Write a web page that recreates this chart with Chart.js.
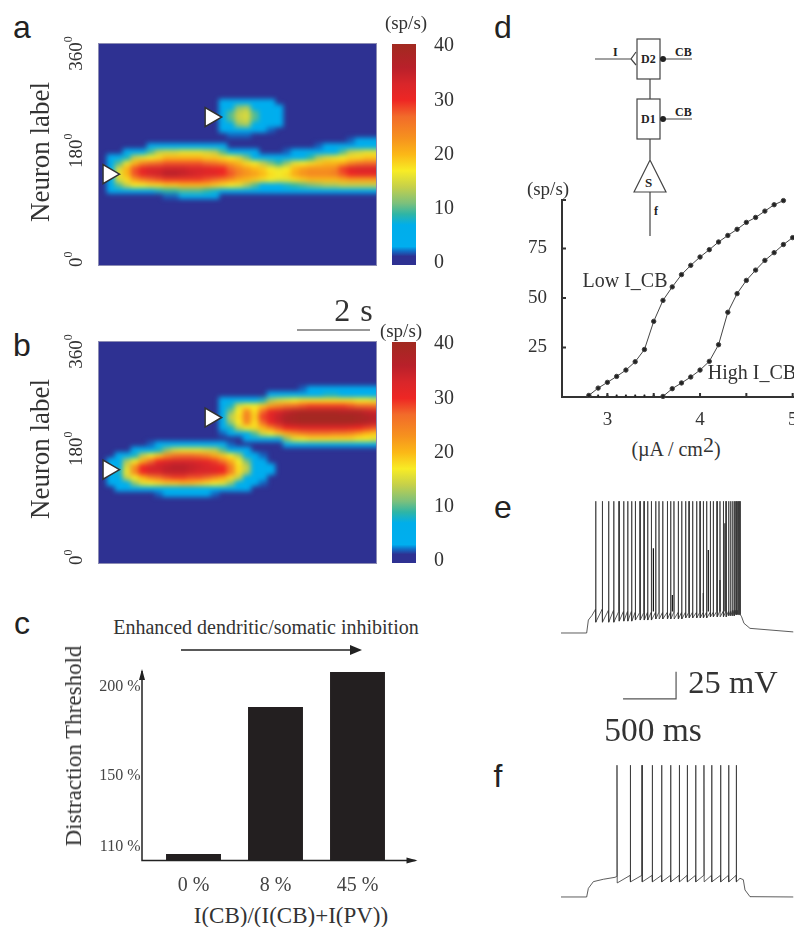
<!DOCTYPE html>
<html>
<head>
<meta charset="utf-8">
<script src="https://cdn.jsdelivr.net/npm/chart.js@4"></script>
<style>
html, body { margin: 0; padding: 0; background: #fff; overflow: hidden; width: 794px; height: 927px; }
canvas { position: absolute; }
.txt { position: absolute; white-space: nowrap; font-family: "Liberation Serif", serif; color: #333; transform-origin: center; }
.plot { position: absolute; overflow: hidden; background: #2e3192; outline: 1px solid #8c8cb4; }
.plot canvas { left: 0; top: 0; filter: blur(2.6px); }
</style>
</head>
<body>
<svg id="schema" width="794" height="240" style="position:absolute;left:0;top:0" font-family="Liberation Serif" font-weight="bold" fill="#222">
  <g fill="none" stroke="#444" stroke-width="1.2">
    <rect x="637" y="39" width="23" height="40"/>
    <rect x="637" y="99" width="23" height="40"/>
    <path d="M650 79V99M650 139V160M634 192L650 160L666 192ZM650 192V236"/>
    <path d="M595 59H631M636 52L631 59L636 65M663 59H692M663 119H692"/>
  </g>
  <circle cx="663" cy="59" r="3"/><circle cx="663" cy="119" r="3"/>
  <text x="613" y="56" font-size="12">I</text>
  <text x="675" y="56" font-size="12">CB</text>
  <text x="675" y="116" font-size="12">CB</text>
  <text x="641" y="63" font-size="12">D2</text>
  <text x="641" y="123" font-size="12">D1</text>
  <text x="645" y="187" font-size="13">S</text>
  <text x="654" y="215" font-size="12">f</text>
</svg>
<script>
// heat map grid: 36 time columns, each row covers 9 degrees from its start angle
const heatColumns = ['0.0','0.2','0.4','0.7','0.9','1.1','1.3','1.5','1.8','2.0','2.2','2.4','2.6','2.9','3.1','3.3','3.5','3.7','4.0','4.2','4.4','4.6','4.8','5.1','5.3','5.5','5.7','5.9','6.2','6.4','6.6','6.8','7.0','7.3','7.5','7.7'];

const aDegrees = [261,252,243,234,225,216,207,198,189,180,171,162,153,144,135,126,117,108];
const aRates = [
  [0,0,0,0,0,0,0,0,0,0,0,0,0,0,0,3,4,4,4,4,3,3,0,0,0,0,0,0,0,0,0,0,0,0,0,0],
  [0,0,0,0,0,0,0,0,0,0,0,0,0,0,0,4,6,12,13,6,4,4,3,0,0,0,0,0,0,0,0,0,0,0,0,0],
  [0,0,0,0,0,0,0,0,0,0,0,0,0,0,0,5,10,14,15,10,5,5,3,0,0,0,0,0,0,0,0,0,0,0,0,0],
  [0,0,0,0,0,0,0,0,0,0,0,0,0,0,0,5,10,14,15,10,5,5,3,0,0,0,0,0,0,0,0,0,0,0,0,0],
  [0,0,0,0,0,0,0,0,0,0,0,0,0,0,0,4,6,12,13,6,4,4,3,0,0,0,0,0,0,0,0,0,0,0,0,0],
  [0,0,0,0,0,0,0,0,0,0,0,0,0,0,0,3,4,4,4,4,3,2,0,0,0,0,0,0,0,0,0,0,0,0,0,0],
  [0,0,0,0,0,0,0,0,0,0,0,0,0,0,0,0,2,2,2,0,0,0,0,0,0,0,0,0,0,0,0,0,0,0,0,0],
  [0,0,0,0,0,0,0,0,0,0,0,0,0,0,0,0,0,0,0,0,0,0,0,0,0,0,0,0,0,0,0,2,3,4,4,4],
  [0,0,0,0,0,0,3,4,4,4,5,5,5,5,4,3,0,0,0,0,0,0,0,0,0,0,0,2,3,4,4,5,5,6,7,7],
  [0,0,0,3,5,6,10,14,15,15,16,16,16,15,14,10,7,5,4,3,0,0,0,2,3,3,4,4,5,7,10,14,15,16,16,16],
  [0,3,5,8,14,16,17,18,20,20,20,20,20,19,19,18,17,15,11,7,5,4,3,4,5,6,9,13,15,16,17,18,18,19,19,19],
  [0,4,10,16,20,24,26,27,28,28,28,28,28,27,26,24,22,20,18,17,14,11,9,12,16,17,18,19,20,20,21,24,26,27,27,27],
  [0,5,15,20,28,31,33,33,34,34,34,33,33,32,31,30,27,24,22,20,19,17,16,17,20,22,23,23,23,24,29,32,33,33,33,33],
  [0,6,16,20,28,31,33,34,36,36,35,34,33,32,32,30,28,25,23,22,20,18,17,18,21,23,24,24,24,25,28,30,31,31,31,31],
  [0,5,15,18,22,25,27,28,29,29,29,29,29,28,27,25,23,21,20,19,18,17,16,16,18,19,20,20,20,20,21,22,22,22,22,22],
  [0,4,10,14,17,17,18,18,19,19,20,20,20,20,19,18,17,16,13,10,7,6,6,8,9,10,11,12,13,13,14,14,14,14,14,14],
  [0,3,5,5,6,6,7,8,9,9,10,10,10,9,8,6,6,5,5,4,4,4,3,4,4,4,4,4,4,4,4,4,4,4,4,4],
  [0,0,0,0,0,0,0,0,2,2,3,3,3,3,3,0,0,0,0,0,0,0,0,0,0,0,0,0,0,0,0,0,0,0,0,0]
];

const bDegrees = [279,270,261,252,243,234,225,216,207,198,189,180,171,162,153,144,135,126,117,108];
const bRates = [
  [0,0,0,0,0,0,0,0,0,0,0,0,0,0,0,0,0,0,0,0,0,0,0,0,0,2,3,4,4,4,4,3,3,3,3,3],
  [0,0,0,0,0,0,0,0,0,0,0,0,0,0,0,0,0,0,0,0,0,3,4,5,5,5,6,7,8,8,7,6,5,5,5,5],
  [0,0,0,0,0,0,0,0,0,0,0,0,0,0,0,3,4,5,5,5,8,13,15,16,17,18,18,18,18,18,18,18,17,17,16,16],
  [0,0,0,0,0,0,0,0,0,0,0,0,0,0,0,4,8,15,17,17,19,22,24,26,27,28,29,29,29,29,29,28,27,27,26,26],
  [0,0,0,0,0,0,0,0,0,0,0,0,0,0,0,5,11,17,24,18,27,31,33,35,37,38,38,38,38,38,37,37,37,35,34,34],
  [0,0,0,0,0,0,0,0,0,0,0,0,0,0,0,6,14,18,25,19,29,32,35,38,39,40,40,40,40,40,40,40,39,38,36,36],
  [0,0,0,0,0,0,0,0,0,0,0,0,0,0,0,5,12,17,24,18,27,31,34,37,38,39,39,39,39,39,39,39,38,37,35,35],
  [0,0,0,0,0,0,0,0,0,0,0,0,0,0,0,4,8,14,17,18,20,24,28,30,31,32,32,32,32,32,32,31,30,29,28,28],
  [0,0,0,0,0,0,0,0,0,0,0,0,0,0,0,2,4,5,7,10,15,17,19,21,23,25,26,26,26,25,25,24,22,20,19,19],
  [0,0,0,0,0,0,0,0,0,0,0,0,0,0,0,0,0,0,3,4,5,5,7,12,16,17,18,18,18,18,18,18,17,17,16,16],
  [0,0,0,0,0,0,2,3,4,4,4,4,4,4,3,3,2,0,0,0,0,0,0,3,4,5,5,6,6,6,6,5,5,5,5,5],
  [0,0,0,0,3,4,5,8,12,15,16,16,16,15,14,10,6,4,3,0,0,0,0,0,0,0,0,0,0,0,0,0,0,0,0,0],
  [0,0,3,5,8,14,17,19,23,26,27,27,26,24,21,19,17,13,5,4,2,0,0,0,0,0,0,0,0,0,0,0,0,0,0,0],
  [0,3,5,13,17,21,27,30,32,33,33,33,32,31,29,26,21,17,11,5,4,0,0,0,0,0,0,0,0,0,0,0,0,0,0,0],
  [0,4,7,15,23,30,33,34,35,36,36,35,34,33,32,30,25,18,14,5,4,3,0,0,0,0,0,0,0,0,0,0,0,0,0,0],
  [0,4,8,16,24,30,33,33,35,35,35,34,33,33,32,30,25,18,13,5,4,3,0,0,0,0,0,0,0,0,0,0,0,0,0,0],
  [0,3,6,14,17,20,24,26,28,29,29,28,28,27,24,21,18,14,7,4,3,0,0,0,0,0,0,0,0,0,0,0,0,0,0,0],
  [0,3,4,6,12,16,17,18,19,19,20,20,19,18,17,16,12,7,5,4,2,0,0,0,0,0,0,0,0,0,0,0,0,0,0,0],
  [0,0,3,4,5,5,5,6,7,7,7,7,7,6,5,5,5,4,3,0,0,0,0,0,0,0,0,0,0,0,0,0,0,0,0,0],
  [0,0,0,0,0,0,0,2,3,3,3,3,3,3,2,0,0,0,0,0,0,0,0,0,0,0,0,0,0,0,0,0,0,0,0,0]
];

const angleTicks = [0, 180, 360];
const aCueTime = [0.27, 3.16];
const aCueAngle = [148, 241];
const bCueTime = [0.27, 3.16];
const bCueAngle = [152, 237];

const rateTicks = [0, 10, 20, 30, 40];
const rateStops = [0, 1.2, 2.2, 3, 7, 9, 11, 14, 17, 20, 23, 27, 30, 33, 36, 40.4];
const rateColors = ['#2e3192','#2e3192','#1070c8','#00aeef','#00aeea','#2fb5a5','#7cc07c','#c5d04a','#f8ec25','#fbb817','#f6921e','#f26b2a','#ee2724','#d9262a','#b9202a','#a12a20'];

// panel c
const ratioLabels = ['0 %', '8 %', '45 %'];
const thresholdValues = [106, 188.7, 208.4];
const thresholdTicks = [110, 150, 200];

// panel d
const lowCurrent = [2.8,2.9,3.0,3.1,3.2,3.3,3.4,3.5,3.6,3.7,3.8,3.9,4.0,4.1,4.2,4.3,4.4,4.5,4.6,4.7,4.8,4.9];
const lowRate = [0.8,4.5,7.4,10.4,13.6,17.8,24,38.2,48.8,55.6,61.8,66.5,70.7,74.4,78.3,81.6,84.7,88.2,90.7,93.9,97.1,99.2];
const highCurrent = [3.6,3.7,3.8,3.9,4.0,4.1,4.2,4.3,4.4,4.5,4.6,4.7,4.8,4.9,5.0];
const highRate = [0.3,4.2,7.1,10.1,13.6,18,26.4,42.8,52.2,58.9,64.1,69,72.9,77,80.5];
const silentCurrent = [2.8,2.9,3.0,3.1,3.2,3.3,3.4,3.5];
const silentRate = [0.8,0.8,0.8,0.8,0.8,0.8,0.8,0.8];
const currentTicks = [3, 3.5, 4, 4.5, 5];
const firingTicks = [25, 50, 75];

// panel e, times in ms and voltage in mV
const eSpikeTimes = [327,390,449,497,547,591,629,666,701,745,783,817,852,893,924,959,1003,1034,1065,1106,1138,1175,1207,1241,1279,1311,1342,1373,1408,1436,1471,1499,1531,1556,1581,1600,1619,1634,1645,1650,1655,1663,1668,1672,1677,1682,1686,1691];
const eFoot = [-48,-48,-49,-49,-50,-50,-50,-50,-51,-51,-51,-51,-51,-51,-51,-51,-51,-51,-51,-51,-51,-51,-51,-51,-51,-51,-51,-51,-51,-51,-50,-50,-50,-50,-50,-50,-49,-49,-49,-49,-49,-49,-49,-49,-49,-49,-49,-49];
const eTrough = [-60,-60,-60,-60,-59,-59,-59,-59,-58,-58,-58,-58,-58,-57,-57,-57,-57,-57,-57,-57,-57,-56,-56,-56,-56,-56,-56,-56,-55,-55,-55,-55,-55,-55,-54,-54,-54,-54,-53,-53,-53,-53,-53,-53,-53,-53,-53,-53];
const ePartialTimes = [871,1050,1342,1389,1499,1546];
const ePartialTops = [8.5,-34.8,-33,6.9,-20.9,31.7];
const eOnsetT = [0,242,258,290,320];
const eOnsetV = [-70,-70,-58,-54,-49];
const eOffsetT = [1703,1725,1782,2190];
const eOffsetV = [-55,-61,-65.7,-69];
const barTimes = [585,1085,1085];
const barVolts = [-131,-131,-106];

// panel f
const fSpikeTimes = [528,654,764,861,949,1034,1116,1191,1270,1348,1421,1505,1581,1653];
const fFoot = [-51,-50,-50,-50,-50,-50,-50,-50,-50,-50,-50,-50,-50,-50];
const fTrough = [-57,-56,-56,-56,-56,-56,-56,-56,-56,-56,-56,-56,-56,-56];
const fOnsetT = [0,242,258,305,399,509];
const fOnsetV = [-70,-70,-62,-55.8,-53.6,-51.8];
const fOffsetT = [1688,1719,1735,1782,2190];
const fOffsetV = [-52.7,-54,-63.5,-69.7,-70];
const spikePeak = 52;

Chart.defaults.animation = false;
Chart.defaults.responsive = false;
Chart.defaults.font.family = '"Liberation Serif", serif';
Chart.defaults.color = '#333';
Chart.defaults.plugins.legend.display = false;
Chart.defaults.plugins.tooltip.enabled = false;

function addCanvas(parent, x, y, w, h) {
  const c = document.createElement('canvas');
  c.width = w; c.height = h;
  c.style.width = w + 'px'; c.style.height = h + 'px';
  c.style.left = x + 'px'; c.style.top = y + 'px';
  parent.appendChild(c);
  return c;
}

function addText(html, x, y, size, extra) {
  const d = document.createElement('div');
  d.className = 'txt';
  d.innerHTML = html;
  d.style.left = x + 'px';
  d.style.top = y + 'px';
  d.style.fontSize = size + 'px';
  d.style.transform = 'translate(-50%,-50%)' + ((extra && extra.rotate) ? ' rotate(-90deg)' : '');
  if (extra && extra.css) d.style.cssText += extra.css;
  document.body.appendChild(d);
}

// axis size is pinned so the chart area lands where the panel needs it
function pinAxis(s, size) {
  if (s.isHorizontal()) s.height = size; else s.width = size;
  s.paddingTop = 0; s.paddingBottom = 0; s.paddingLeft = 0; s.paddingRight = 0;
}

function hexToRgb(h) {
  return [parseInt(h.slice(1,3),16), parseInt(h.slice(3,5),16), parseInt(h.slice(5,7),16)];
}

function rateColor(v) {
  if (v <= 0) return 'rgba(0,0,0,0)';
  for (let i = 1; i < rateStops.length; i++) {
    if (v <= rateStops[i]) {
      const t = (v - rateStops[i-1]) / (rateStops[i] - rateStops[i-1]);
      const a = hexToRgb(rateColors[i-1]), b = hexToRgb(rateColors[i]);
      return 'rgb(' + a.map((q, k) => Math.round(q + (b[k]-q)*t)).join(',') + ')';
    }
  }
  return rateColors[rateColors.length-1];
}

// rotated angle labels next to the map
const angleLabels = {
  id: 'angleLabels',
  afterDraw(chart) {
    const c = chart.ctx, s = chart.scales.y;
    const shift = {0: 2, 180: 13.5, 360: 26.7};
    c.save();
    c.fillStyle = '#333';
    angleTicks.forEach(v => {
      c.save();
      c.translate(22, s.getPixelForValue(v) + shift[v]);
      c.rotate(-Math.PI / 2);
      c.font = '19px "Liberation Serif"';
      c.fillText(String(v), 0, 0);
      const w = c.measureText(String(v)).width;
      c.font = '12px "Liberation Serif"';
      c.fillText('0', w, -10);
      c.restore();
    });
    c.restore();
  }
};

// gradient needs the laid out scale, so it is set just before the bars update
const barGradient = {
  id: 'barGradient',
  afterLayout(chart) {
    const s = chart.scales.y;
    const g = chart.ctx.createLinearGradient(0, s.getPixelForValue(-0.4), 0, s.getPixelForValue(40.4));
    rateStops.forEach((v, i) => g.addColorStop(Math.min(1, (v + 0.4) / 40.8), rateColors[i]));
    chart.data.datasets[0].backgroundColor = g;
  }
};

// short ticks pointing into the plot for panel d
const innerTicks = {
  id: 'innerTicks',
  afterDraw(chart) {
    const c = chart.ctx, a = chart.chartArea;
    c.save();
    c.strokeStyle = '#333'; c.lineWidth = 2;
    c.beginPath();
    currentTicks.forEach(v => {
      const x = chart.scales.x.getPixelForValue(v);
      c.moveTo(x, a.bottom); c.lineTo(x, a.bottom - 4);
    });
    firingTicks.forEach(v => {
      const y = chart.scales.y.getPixelForValue(v);
      c.moveTo(a.left, y); c.lineTo(a.left + 4, y);
    });
    c.moveTo(a.left, a.top); c.lineTo(a.left + 4, a.top);
    c.stroke();
    c.restore();
  }
};

function heatPanel(top, degrees, rates, cueT, cueA) {
  const box = document.createElement('div');
  box.className = 'plot';
  box.style.cssText = 'left:99px;top:' + top + 'px;width:277px;height:221px';
  document.body.appendChild(box);
  new Chart(addCanvas(box, 0, 0, 288, 221), {
    type: 'bar',
    data: {
      labels: heatColumns,
      datasets: degrees.map((d, r) => ({
        data: heatColumns.map(() => [d, d + 9]),
        backgroundColor: rates[r].map(rateColor),
        borderWidth: 0,
        barPercentage: 1,
        categoryPercentage: 1,
        grouped: false
      }))
    },
    options: {
      layout: { padding: 0 },
      scales: {
        x: { display: false },
        y: { display: false, min: 0, max: 360 }
      }
    }
  });
  // cue triangles and angle ticks on a clear chart above the map
  new Chart(addCanvas(document.body, 60, top - 25, 320, 271), {
    type: 'scatter',
    data: {
      datasets: [{
        data: cueT.map((t, i) => ({ x: t, y: cueA[i] })),
        pointStyle: 'triangle',
        rotation: 90,
        radius: 11,
        backgroundColor: '#fff',
        borderColor: '#333',
        borderWidth: 1.5
      }]
    },
    options: {
      layout: { padding: { left: 39, top: 25, right: 4, bottom: 25 } },
      scales: {
        x: { display: false, min: 0, max: 7.6 },
        y: { display: false, min: 0, max: 360 }
      }
    },
    plugins: [angleLabels]
  });
  // colour bar
  new Chart(addCanvas(document.body, 392, top - 10, 70, 241), {
    type: 'bar',
    data: {
      labels: ['rate'],
      datasets: [{
        data: [[-0.4, 40.4]],
        barPercentage: 1,
        categoryPercentage: 1,
        borderWidth: 0
      }]
    },
    options: {
      layout: { padding: { top: 10, bottom: 10 } },
      scales: {
        x: { display: false },
        y: {
          position: 'right',
          min: -0.4, max: 40.4,
          afterBuildTicks(s) { s.ticks = rateTicks.map(v => ({ value: v })); },
          afterFit(s) { pinAxis(s, 46); },
          grid: { display: false, drawTicks: false },
          border: { display: false },
          ticks: { padding: 18, color: '#333', font: { size: 20 } }
        }
      }
    },
    plugins: [barGradient]
  });
}

heatPanel(44, aDegrees, aRates, aCueTime, aCueAngle);
heatPanel(342, bDegrees, bRates, bCueTime, bCueAngle);

// panel c bars, axes drawn past the chart area with arrow heads
const axisArrows = {
  id: 'axisArrows',
  afterDraw(chart) {
    const c = chart.ctx, a = chart.chartArea;
    const x0 = a.left - 10.5, y0 = a.bottom;
    c.save();
    c.strokeStyle = '#222'; c.fillStyle = '#222'; c.lineWidth = 1.5;
    c.beginPath();
    c.moveTo(x0, a.top); c.lineTo(x0, y0); c.lineTo(a.right + 17, y0);
    c.stroke();
    c.beginPath();
    c.moveTo(x0, a.top - 2); c.lineTo(x0 - 3, a.top + 9); c.lineTo(x0 + 3, a.top + 9); c.closePath();
    c.moveTo(a.right + 19, y0); c.lineTo(a.right + 8, y0 - 3); c.lineTo(a.right + 8, y0 + 3); c.closePath();
    c.fill();
    c.restore();
  }
};

new Chart(addCanvas(document.body, 60, 661, 380, 240), {
  type: 'bar',
  data: {
    labels: ratioLabels,
    datasets: [{ data: thresholdValues, backgroundColor: '#231f20', barPercentage: 0.67, categoryPercentage: 1 }]
  },
  options: {
    layout: { padding: { top: 10, right: 41.5 } },
    scales: {
      x: {
        afterFit(s) { pinAxis(s, 40.5); },
        grid: { display: false, drawTicks: false },
        border: { display: false },
        ticks: { padding: 13, color: '#444', font: { size: 20 } }
      },
      y: {
        min: 102.4, max: 209,
        afterBuildTicks(s) { s.ticks = thresholdTicks.map(v => ({ value: v })); },
        afterFit(s) { pinAxis(s, 92.5); },
        grid: { display: false, drawTicks: false },
        border: { display: false },
        ticks: { padding: 12, color: '#444', font: { size: 16 }, callback: v => v + ' %' }
      }
    }
  },
  plugins: [axisArrows]
});

// panel d f-I curves
new Chart(addCanvas(document.body, 520, 190, 300, 240), {
  type: 'scatter',
  data: {
    datasets: [
      { data: lowCurrent.map((x, i) => ({ x: x, y: lowRate[i] })), showLine: true, borderColor: '#444', borderWidth: 1, backgroundColor: '#222', radius: 2.2 },
      { data: highCurrent.map((x, i) => ({ x: x, y: highRate[i] })), showLine: true, borderColor: '#444', borderWidth: 1, backgroundColor: '#222', radius: 2.2 },
      { data: silentCurrent.map((x, i) => ({ x: x, y: silentRate[i] })), backgroundColor: '#222', radius: 1 }
    ]
  },
  options: {
    clip: false,
    layout: { autoPadding: false, padding: { top: 10 } },
    scales: {
      x: {
        min: 2.51, max: 5.295,
        afterBuildTicks(s) { s.ticks = currentTicks.map(v => ({ value: v })); },
        afterFit(s) { pinAxis(s, 33); },
        grid: { drawOnChartArea: false, drawTicks: false },
        border: { color: '#333', width: 2 },
        ticks: { padding: 12, maxRotation: 0, color: '#333', font: { size: 19 }, callback: v => Number.isInteger(v) ? v : '' }
      },
      y: {
        min: 0, max: 99.5,
        afterBuildTicks(s) { s.ticks = firingTicks.map(v => ({ value: v })); },
        afterFit(s) { pinAxis(s, 42); },
        grid: { drawOnChartArea: false, drawTicks: false },
        border: { color: '#333', width: 2 },
        ticks: { padding: 15, color: '#333', font: { size: 19 } }
      }
    }
  },
  plugins: [innerTicks]
});

// membrane traces are spike times joined to the sub-threshold level
function buildTrace(onT, onV, spikes, foot, trough, offT, offV) {
  const pts = onT.map((t, i) => ({ x: t, y: onV[i] }));
  spikes.forEach((t, i) => {
    pts.push({ x: t - 2, y: foot[i] }, { x: t, y: spikePeak }, { x: t + 2, y: trough[i] });
  });
  offT.forEach((t, i) => pts.push({ x: t, y: offV[i] }));
  return pts;
}

function tracePanel(x, y, w, h, yMin, yMax, sets) {
  new Chart(addCanvas(document.body, x, y, w, h), {
    type: 'scatter',
    data: { datasets: sets.map(s => Object.assign({ showLine: true, radius: 0, borderColor: '#333', borderWidth: 0.8, spanGaps: false }, s)) },
    options: {
      layout: { padding: 0 },
      scales: {
        x: { display: false, min: 0, max: 2197 },
        y: { display: false, min: yMin, max: yMax }
      }
    }
  });
}

const ePartial = [];
ePartialTimes.forEach((t, i) => ePartial.push({ x: t, y: -50 }, { x: t, y: ePartialTops[i] }, { x: t, y: null }));

tracePanel(561, 492, 233, 214, -137.6, 60.56, [
  { data: buildTrace(eOnsetT, eOnsetV, eSpikeTimes, eFoot, eTrough, eOffsetT, eOffsetV) },
  { data: ePartial, borderColor: '#111', borderWidth: 1.2 },
  { data: barTimes.map((t, i) => ({ x: t, y: barVolts[i] })), borderColor: '#555', borderWidth: 1.2 }
]);
tracePanel(561, 757, 233, 151, -80.2, 59.6, [
  { data: buildTrace(fOnsetT, fOnsetV, fSpikeTimes, fFoot, fTrough, fOffsetT, fOffsetV) }
]);

// panel letters
const sans = 'font-family:"Liberation Sans",sans-serif;color:#222;';
addText('a', 22, 27, 32, { css: sans });
addText('b', 22, 345, 32, { css: sans });
addText('c', 22, 623, 32, { css: sans });
addText('d', 503, 27, 32, { css: sans });
addText('e', 503, 507, 32, { css: sans });
addText('f', 498, 776, 32, { css: sans });

// texts around the panels
addText('Neuron label', 40, 152, 27, { rotate: true });
addText('Neuron label', 40, 449, 27, { rotate: true });
addText('(sp/s)', 406, 23, 19);
addText('(sp/s)', 401, 331, 19);
addText('(sp/s)', 548, 189, 19);
addText('2 s', 354, 310, 32, { css: 'letter-spacing:1px;' });
addText('Enhanced dendritic/somatic inhibition', 266, 627, 20);
addText('Distraction Threshold', 74, 746, 23, { rotate: true });
addText('I(CB)/(I(CB)+I(PV))', 291, 916, 23);
addText('Low I_CB', 625, 280, 20);
addText('High I_CB', 752, 372, 20);
addText('(&micro;A / cm<span style="position:relative;top:-4px;font-size:22px">2</span>)', 676, 449, 20);
addText('25 mV', 733, 682, 32.5);
addText('500 ms', 653, 730, 33.5);

// scale bar of panels a and b, c arrow
const lines = document.createElementNS('http://www.w3.org/2000/svg', 'svg');
lines.setAttribute('width', 794); lines.setAttribute('height', 927);
lines.style.cssText = 'position:absolute;left:0;top:0;pointer-events:none';
lines.innerHTML = '<path d="M297 330H370" stroke="#333" stroke-width="1.2"/>' +
  '<path d="M181 650H352" stroke="#222" stroke-width="1.6"/><path d="M362 650L350 645V655Z" fill="#222"/>';
document.body.appendChild(lines);
</script>
</body>
</html>
